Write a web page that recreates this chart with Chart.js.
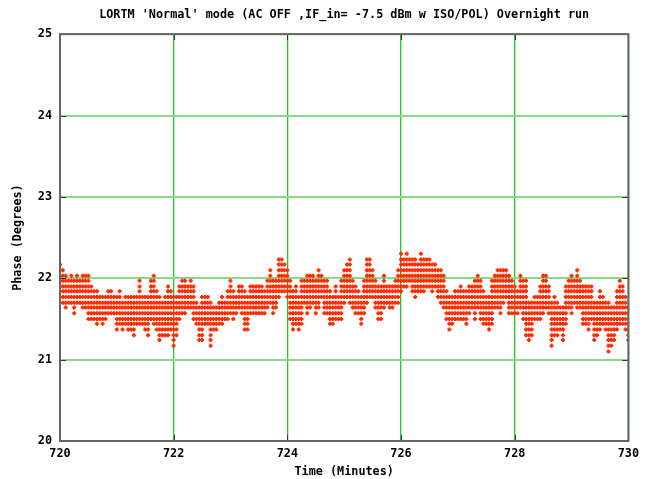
<!DOCTYPE html>
<html>
<head>
<meta charset="utf-8">
<script src="https://cdn.jsdelivr.net/npm/chart.js@4.4.1/dist/chart.umd.min.js"></script>
<style>
  html, body { margin: 0; padding: 0; background: #ffffff; }
  canvas { display: block; }
</style>
</head>
<body>
<canvas id="c" width="645" height="479"></canvas>
<script>
// Sampling grid of the run: one column every 0.05 minute from 720 to 730.
const SLOT_START = 720;
const SLOT_STEP = 0.05;

// Quantised phase readings (degrees) that the detector can report.
const PHASE_LEVELS = [21.10, 21.17, 21.24, 21.30, 21.37, 21.44, 21.50, 21.57, 21.64, 21.70,
                      21.77, 21.84, 21.90, 21.97, 22.03, 22.10, 22.17, 22.23, 22.30];

// Highest phase reading seen in each 0.05 min column.
const PHASE_HIGH = [
  22.17, 22.10, 22.03, 21.97, 22.03, 21.97, 22.03, 21.97, 22.03, 22.03,
  22.03, 21.90, 21.84, 21.84, 21.77, 21.77, 21.77, 21.84, 21.84, 21.77,
  21.77, 21.84, 21.70, 21.77, 21.77, 21.77, 21.77, 21.77, 21.97, 21.77,
  21.77, 21.77, 21.97, 22.03, 21.84, 21.77, 21.70, 21.77, 21.90, 21.84,
  21.77, 21.77, 21.90, 21.97, 21.97, 21.90, 21.97, 21.90, 21.70, 21.64,
  21.77, 21.77, 21.77, 21.70, 21.64, 21.64, 21.70, 21.77, 21.70, 21.84,
  21.97, 21.84, 21.77, 21.90, 21.90, 21.84, 21.77, 21.90, 21.90, 21.90,
  21.90, 21.90, 21.84, 21.97, 22.10, 21.97, 21.97, 22.23, 22.23, 22.17,
  22.10, 21.97, 21.84, 21.90, 21.77, 21.97, 21.97, 22.03, 22.03, 22.03,
  21.97, 22.10, 22.03, 21.97, 21.97, 21.84, 21.77, 21.90, 21.77, 21.97,
  22.10, 22.17, 22.23, 21.97, 21.90, 21.84, 21.77, 21.97, 22.23, 22.23,
  22.10, 21.97, 21.90, 21.90, 22.03, 21.90, 21.90, 21.90, 21.97, 22.10,
  22.30, 22.23, 22.30, 22.23, 22.23, 22.23, 22.17, 22.30, 22.23, 22.23,
  22.23, 22.17, 22.17, 22.10, 22.10, 22.03, 21.84, 21.77, 21.77, 21.84,
  21.84, 21.90, 21.84, 21.84, 21.90, 21.90, 21.97, 22.03, 21.97, 21.84,
  21.77, 21.77, 21.97, 22.03, 22.10, 22.10, 22.10, 22.10, 22.03, 21.97,
  21.90, 21.84, 22.03, 21.97, 21.97, 21.70, 21.70, 21.77, 21.77, 21.90,
  22.03, 22.03, 21.90, 21.70, 21.77, 21.70, 21.64, 21.64, 21.90, 21.97,
  22.03, 21.97, 22.10, 21.97, 21.90, 21.90, 21.90, 21.90, 21.70, 21.70,
  21.84, 21.77, 21.70, 21.70, 21.64, 21.64, 21.84, 21.97, 21.90, 21.77,
  21.64
];

// Lowest phase reading seen in each 0.05 min column.
const PHASE_LOW = [
  21.77, 21.70, 21.64, 21.70, 21.70, 21.57, 21.70, 21.70, 21.64, 21.64,
  21.50, 21.50, 21.50, 21.44, 21.50, 21.44, 21.50, 21.57, 21.57, 21.57,
  21.37, 21.44, 21.37, 21.44, 21.37, 21.37, 21.30, 21.44, 21.44, 21.44,
  21.37, 21.30, 21.50, 21.44, 21.37, 21.24, 21.30, 21.30, 21.30, 21.37,
  21.17, 21.30, 21.50, 21.57, 21.57, 21.64, 21.64, 21.50, 21.44, 21.24,
  21.24, 21.44, 21.44, 21.17, 21.37, 21.37, 21.44, 21.44, 21.50, 21.50,
  21.57, 21.50, 21.57, 21.64, 21.57, 21.37, 21.37, 21.57, 21.57, 21.57,
  21.57, 21.57, 21.57, 21.64, 21.70, 21.57, 21.64, 21.77, 21.84, 21.84,
  21.77, 21.50, 21.37, 21.44, 21.37, 21.44, 21.70, 21.57, 21.64, 21.70,
  21.57, 21.64, 21.77, 21.57, 21.57, 21.44, 21.44, 21.50, 21.50, 21.50,
  21.70, 21.77, 21.70, 21.64, 21.57, 21.57, 21.44, 21.57, 21.70, 21.77,
  21.77, 21.64, 21.50, 21.50, 21.64, 21.70, 21.64, 21.64, 21.70, 21.70,
  21.84, 21.90, 21.90, 21.97, 21.84, 21.77, 21.84, 21.84, 21.84, 21.90,
  21.90, 21.84, 21.90, 21.77, 21.70, 21.64, 21.50, 21.37, 21.44, 21.50,
  21.50, 21.50, 21.50, 21.44, 21.57, 21.64, 21.50, 21.64, 21.50, 21.44,
  21.44, 21.37, 21.44, 21.64, 21.64, 21.57, 21.70, 21.77, 21.57, 21.57,
  21.57, 21.57, 21.64, 21.50, 21.30, 21.24, 21.30, 21.50, 21.50, 21.50,
  21.57, 21.64, 21.57, 21.17, 21.30, 21.30, 21.37, 21.24, 21.44, 21.64,
  21.57, 21.70, 21.64, 21.64, 21.44, 21.44, 21.37, 21.50, 21.24, 21.30,
  21.37, 21.44, 21.37, 21.10, 21.17, 21.24, 21.37, 21.44, 21.44, 21.37,
  21.24
];

const X_TICKS = [720, 722, 724, 726, 728, 730];
const Y_TICKS = [20, 21, 22, 23, 24, 25];

const TITLE = "LORTM 'Normal' mode (AC OFF ,IF_in= -7.5 dBm w ISO/POL) Overnight run";
const X_TITLE = 'Time (Minutes)';
const Y_TITLE = 'Phase (Degrees)';

// Every reading inside a column's range becomes one plotted sample.
const samples = [];
PHASE_HIGH.forEach((hi, i) => {
  const t = SLOT_START + i * SLOT_STEP;
  const lo = PHASE_LOW[i];
  PHASE_LEVELS.forEach(v => {
    if (v >= lo - 0.005 && v <= hi + 0.005) samples.push({ x: t, y: v });
  });
});

const FONT = { family: "'DejaVu Sans Mono', monospace", size: 11.8, weight: 'bold' };

// Plot frame with short inward tick marks on all four sides.
const framePlugin = {
  id: 'frame',
  afterDatasetsDraw(chart) {
    const { ctx, chartArea: a, scales } = chart;
    ctx.save();
    ctx.strokeStyle = '#333333';
    ctx.lineWidth = 1;
    const len = 6;
    ctx.beginPath();
    Y_TICKS.forEach(v => {
      const y = Math.round(scales.y.getPixelForValue(v)) + 0.5;
      ctx.moveTo(a.left, y); ctx.lineTo(a.left + len, y);
      ctx.moveTo(a.right, y); ctx.lineTo(a.right - len, y);
    });
    X_TICKS.forEach(v => {
      const x = Math.round(scales.x.getPixelForValue(v)) + 0.5;
      ctx.moveTo(x, a.bottom); ctx.lineTo(x, a.bottom - len);
      ctx.moveTo(x, a.top); ctx.lineTo(x, a.top + len);
    });
    ctx.stroke();
    ctx.strokeStyle = '#666666';
    ctx.lineWidth = 2;
    ctx.strokeRect(a.left, a.top, a.right - a.left, a.bottom - a.top);
    ctx.restore();
  }
};

new Chart(document.getElementById('c'), {
  type: 'scatter',
  data: {
    datasets: [{
      data: samples,
      pointStyle: 'cross',
      pointRadius: 2,
      pointBorderWidth: 2,
      borderColor: '#ff2a00',
      backgroundColor: '#ff2a00'
    }]
  },
  options: {
    responsive: false,
    devicePixelRatio: 1,
    animation: false,
    layout: { padding: { left: 0, right: 15, top: 0, bottom: 0 } },
    plugins: {
      legend: { display: false },
      tooltip: { enabled: false },
      title: {
        display: true,
        text: TITLE,
        fullSize: false,
        color: '#000000',
        font: FONT,
        padding: { top: 8, bottom: 12 }
      }
    },
    scales: {
      x: {
        type: 'linear',
        min: 720,
        max: 730,
        afterBuildTicks: s => { s.ticks = X_TICKS.map(v => ({ value: v })); },
        afterFit: s => { s.height = 38; },
        ticks: { color: '#000000', font: FONT, padding: 6, maxRotation: 0 },
        grid: { color: '#22c822', lineWidth: 1.3, drawTicks: false },
        border: { display: false },
        title: { display: true, text: X_TITLE, color: '#000000', font: FONT, padding: { top: 0, bottom: 0 } }
      },
      y: {
        type: 'linear',
        min: 20,
        max: 25,
        afterBuildTicks: s => { s.ticks = Y_TICKS.map(v => ({ value: v })); },
        afterFit: s => { s.width = 60; },
        ticks: { color: '#000000', font: FONT, padding: 8 },
        grid: { color: '#8ad88a', lineWidth: 2, drawTicks: false },
        border: { display: false },
        title: { display: true, text: Y_TITLE, color: '#000000', font: FONT, padding: { top: 11, bottom: 0 } }
      }
    }
  },
  plugins: [framePlugin]
});
</script>
</body>
</html>
